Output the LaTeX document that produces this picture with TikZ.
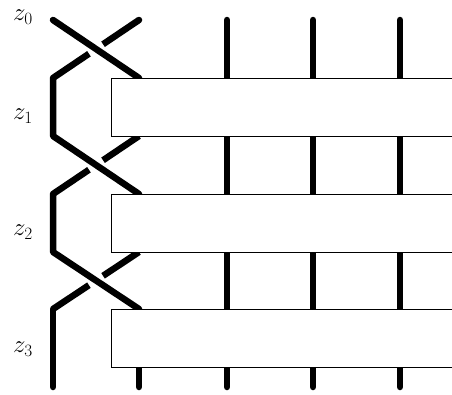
\documentclass[tikz,border=0pt]{standalone}
\usetikzlibrary{calc}
\begin{document}
\begin{tikzpicture}[x=1pt,y=-1pt,
  strand/.style={line width=6.5pt,line cap=round,line join=round,black},
  under/.style={line width=6.5pt,line cap=butt,line join=round,black},
  lab/.style={font=\fontsize{26}{30}\selectfont,inner sep=0pt}]
\useasboundingbox (0,0) rectangle (452,394);
% vertical through lines
\foreach \x/\n in {227/a,313/b,400/c}{
  \coordinate (t\n) at (\x,20); \coordinate (b\n) at (\x,387);
  \draw[strand] (t\n) -- (b\n);
}
% key coordinates
\coordinate (L0) at (53,20);  \coordinate (R0) at (139,20);
\coordinate (L1) at (53,78);  \coordinate (R1) at (139,78);
\coordinate (L1b) at (53,136); \coordinate (R1b) at (139,136);
\coordinate (L2) at (53,194); \coordinate (R2) at (139,194);
\coordinate (L2b) at (53,252); \coordinate (R2b) at (139,252);
\coordinate (L3) at (53,309); \coordinate (R3) at (139,309);
\coordinate (L4) at (53,387); \coordinate (R3b) at (139,367);
\coordinate (R4) at (139,387);
% crossing 1
\draw[under] (R0) -- ($(R0)!0.418!(L1)$);
\fill (R0) circle[radius=3.25pt];
\draw[under] ($(R0)!0.582!(L1)$) -- (L1);
\draw[strand] (L1) -- (L1b) -- (R2);
\draw[strand] (L0) -- (R1);
% crossing 2
\draw[under] (R1b) -- ($(R1b)!0.418!(L2)$);
\draw[under] ($(R1b)!0.582!(L2)$) -- (L2);
\draw[strand] (L2) -- (L2b) -- (R3);
% crossing 3
\draw[under] (R2b) -- ($(R2b)!0.418!(L3)$);
\draw[under] ($(R2b)!0.582!(L3)$) -- (L3);
\draw[strand] (L3) -- (L4);
\draw[strand] (R3b) -- (R4);
% boxes
\foreach \t/\b in {78/136,194/252,309/367}{
  \fill[white] (111,\t) rectangle (452,\b);
  \draw[line width=0.9pt] (452,\t) -- (111,\t) -- (111,\b) -- (452,\b);
}
% labels
\node[lab] (z0) at (23,17) {$z_0$};
\node[lab] (z1) at (23,116) {$z_1$};
\node[lab] (z2) at (23,232) {$z_2$};
\node[lab] (z3) at (23,349) {$z_3$};
\end{tikzpicture}
\end{document}
